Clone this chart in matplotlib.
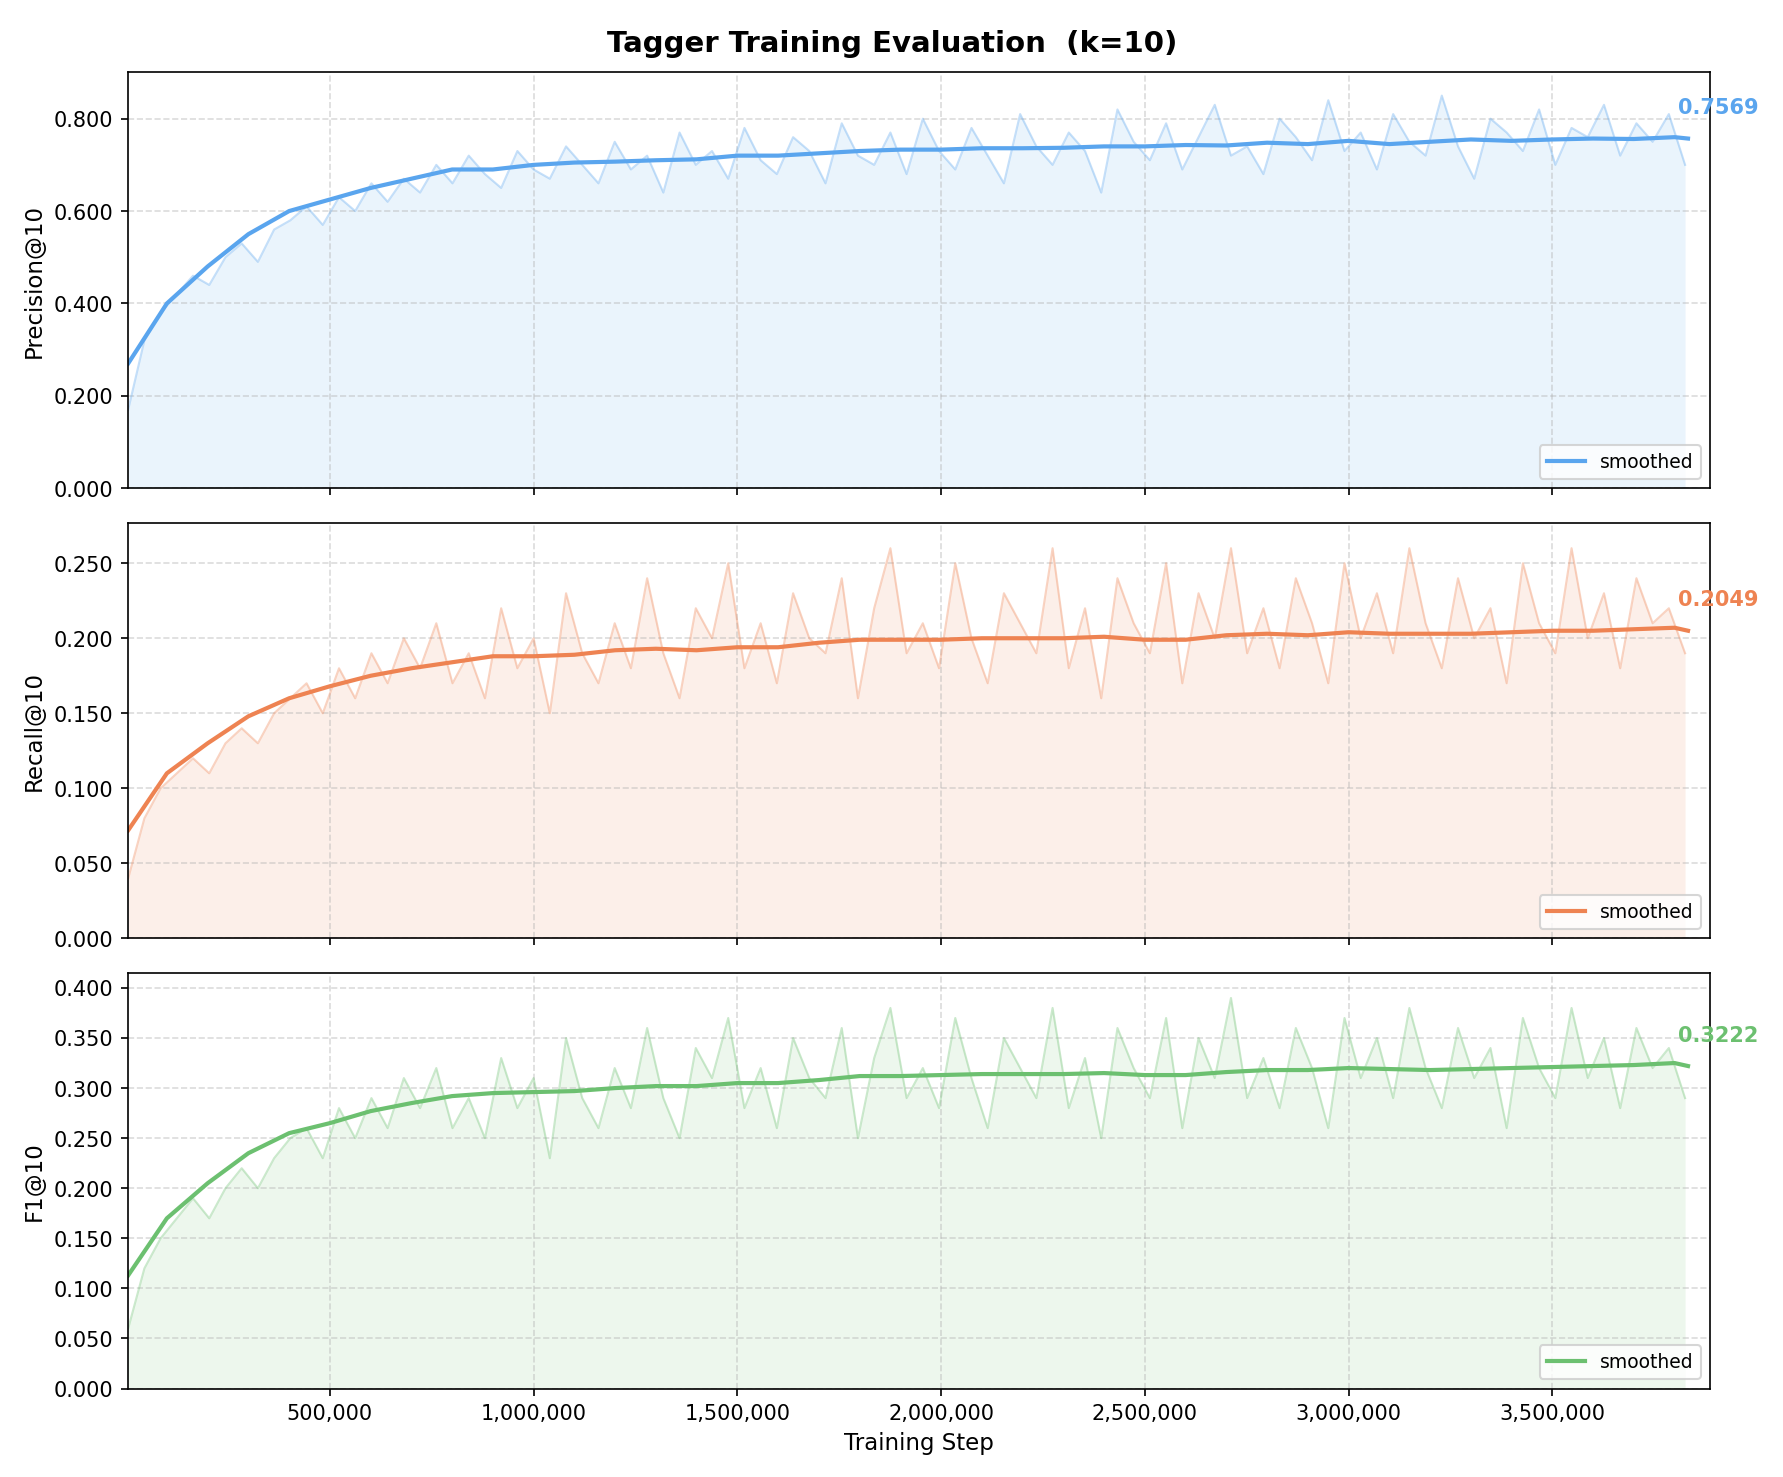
import numpy as np
import matplotlib
matplotlib.use("Agg")
import matplotlib.pyplot as plt
from matplotlib.ticker import FuncFormatter, FormatStrFormatter, MultipleLocator

raw_start, raw_step = 5000, 39800
prec_raw = [0.17,0.32,0.38,0.42,0.46,0.44,0.50,0.53,0.49,0.56,
0.58,0.61,0.57,0.63,0.60,0.66,0.62,0.67,0.64,0.70,
0.66,0.72,0.68,0.65,0.73,0.69,0.67,0.74,0.70,0.66,
0.75,0.69,0.72,0.64,0.77,0.70,0.73,0.67,0.78,0.71,
0.68,0.76,0.73,0.66,0.79,0.72,0.70,0.77,0.68,0.80,
0.73,0.69,0.78,0.72,0.66,0.81,0.74,0.70,0.77,0.73,
0.64,0.82,0.75,0.71,0.79,0.69,0.76,0.83,0.72,0.74,
0.68,0.80,0.76,0.71,0.84,0.73,0.77,0.69,0.81,0.75,
0.72,0.85,0.74,0.67,0.80,0.77,0.73,0.82,0.70,0.78,
0.76,0.83,0.72,0.79,0.75,0.81,0.70]
rec_raw = [0.04,0.08,0.10,0.11,0.12,0.11,0.13,0.14,0.13,0.15,
0.16,0.17,0.15,0.18,0.16,0.19,0.17,0.20,0.18,0.21,
0.17,0.19,0.16,0.22,0.18,0.20,0.15,0.23,0.19,0.17,
0.21,0.18,0.24,0.19,0.16,0.22,0.20,0.25,0.18,0.21,
0.17,0.23,0.20,0.19,0.24,0.16,0.22,0.26,0.19,0.21,
0.18,0.25,0.20,0.17,0.23,0.21,0.19,0.26,0.18,0.22,
0.16,0.24,0.21,0.19,0.25,0.17,0.23,0.20,0.26,0.19,
0.22,0.18,0.24,0.21,0.17,0.25,0.20,0.23,0.19,0.26,
0.21,0.18,0.24,0.20,0.22,0.17,0.25,0.21,0.19,0.26,
0.20,0.23,0.18,0.24,0.21,0.22,0.19]
f1_raw = [0.06,0.12,0.15,0.17,0.19,0.17,0.20,0.22,0.20,0.23,
0.25,0.26,0.23,0.28,0.25,0.29,0.26,0.31,0.28,0.32,
0.26,0.29,0.25,0.33,0.28,0.31,0.23,0.35,0.29,0.26,
0.32,0.28,0.36,0.29,0.25,0.34,0.31,0.37,0.28,0.32,
0.26,0.35,0.31,0.29,0.36,0.25,0.33,0.38,0.29,0.32,
0.28,0.37,0.31,0.26,0.35,0.32,0.29,0.38,0.28,0.33,
0.25,0.36,0.32,0.29,0.37,0.26,0.35,0.31,0.39,0.29,
0.33,0.28,0.36,0.32,0.26,0.37,0.31,0.35,0.29,0.38,
0.32,0.28,0.36,0.31,0.34,0.26,0.37,0.32,0.29,0.38,
0.31,0.35,0.28,0.36,0.32,0.34,0.29]

smooth_steps = [5000] + [100000*i for i in range(1, 39)] + [3833000]
prec_smooth = [0.27,0.40,0.48,0.55,0.60,0.625,0.65,0.67,0.69,0.69,0.70,0.705,0.707,0.71,0.712,0.72,0.72,0.725,0.73,0.733,0.733,0.736,0.736,0.737,0.74,0.74,0.743,0.742,0.748,0.745,0.752,0.745,0.75,0.755,0.752,0.755,0.757,0.756,0.76,0.757]
rec_smooth = [0.072,0.11,0.13,0.148,0.16,0.168,0.175,0.18,0.184,0.188,0.188,0.189,0.192,0.193,0.192,0.194,0.194,0.197,0.199,0.199,0.199,0.200,0.200,0.200,0.201,0.199,0.199,0.202,0.203,0.202,0.204,0.203,0.203,0.203,0.204,0.205,0.205,0.206,0.207,0.205]
f1_smooth = [0.113,0.17,0.205,0.235,0.255,0.265,0.277,0.285,0.292,0.295,0.296,0.297,0.30,0.302,0.302,0.305,0.305,0.308,0.312,0.312,0.313,0.314,0.314,0.314,0.315,0.313,0.313,0.316,0.318,0.318,0.320,0.319,0.318,0.319,0.320,0.321,0.322,0.323,0.325,0.322]
final_vals = [0.7569, 0.2049, 0.3222]
labels = ["Precision@10", "Recall@10", "F1@10"]
colors = ["#5aa5ee", "#ee8352", "#6cc070"]
ylims = [0.90, 0.277, 0.415]
ysteps = [0.2, 0.05, 0.05]

raw_x = raw_start + raw_step*np.arange(len(prec_raw))
fig, axes = plt.subplots(3, 1, figsize=(11.89, 9.85), dpi=150, sharex=True)
for ax, raw, sm, lab, c, yl, ys, fv in zip(axes, [prec_raw, rec_raw, f1_raw],
        [prec_smooth, rec_smooth, f1_smooth], labels, colors, ylims, ysteps, final_vals):
    ax.fill_between(raw_x, 0, raw, color=c, alpha=0.12, lw=0)
    ax.plot(raw_x, raw, color=c, alpha=0.35, lw=1.0)
    ax.plot(smooth_steps, sm, color=c, lw=2, label="smoothed")
    ax.set_ylim(0, yl)
    ax.set_xlim(5000, 3887000)
    ax.set_ylabel(lab, fontsize=11)
    ax.yaxis.set_major_locator(MultipleLocator(ys))
    ax.yaxis.set_major_formatter(FormatStrFormatter('%.3f'))
    ax.grid(True, ls='--', alpha=0.45)
    ax.legend(loc='lower right', fontsize=9)
    ax.annotate(f"{fv:.4f}", (smooth_steps[-1], sm[-1]), xytext=(-5, 12),
                textcoords='offset points', color=c, fontweight='bold', fontsize=10)
axes[-1].xaxis.set_major_formatter(FuncFormatter(lambda v, p: f"{int(v):,}"))
axes[-1].set_xlabel("Training Step", fontsize=11)
fig.suptitle("Tagger Training Evaluation  (k=10)", fontsize=14, fontweight='bold')
fig.tight_layout()
fig.savefig("out.png")
